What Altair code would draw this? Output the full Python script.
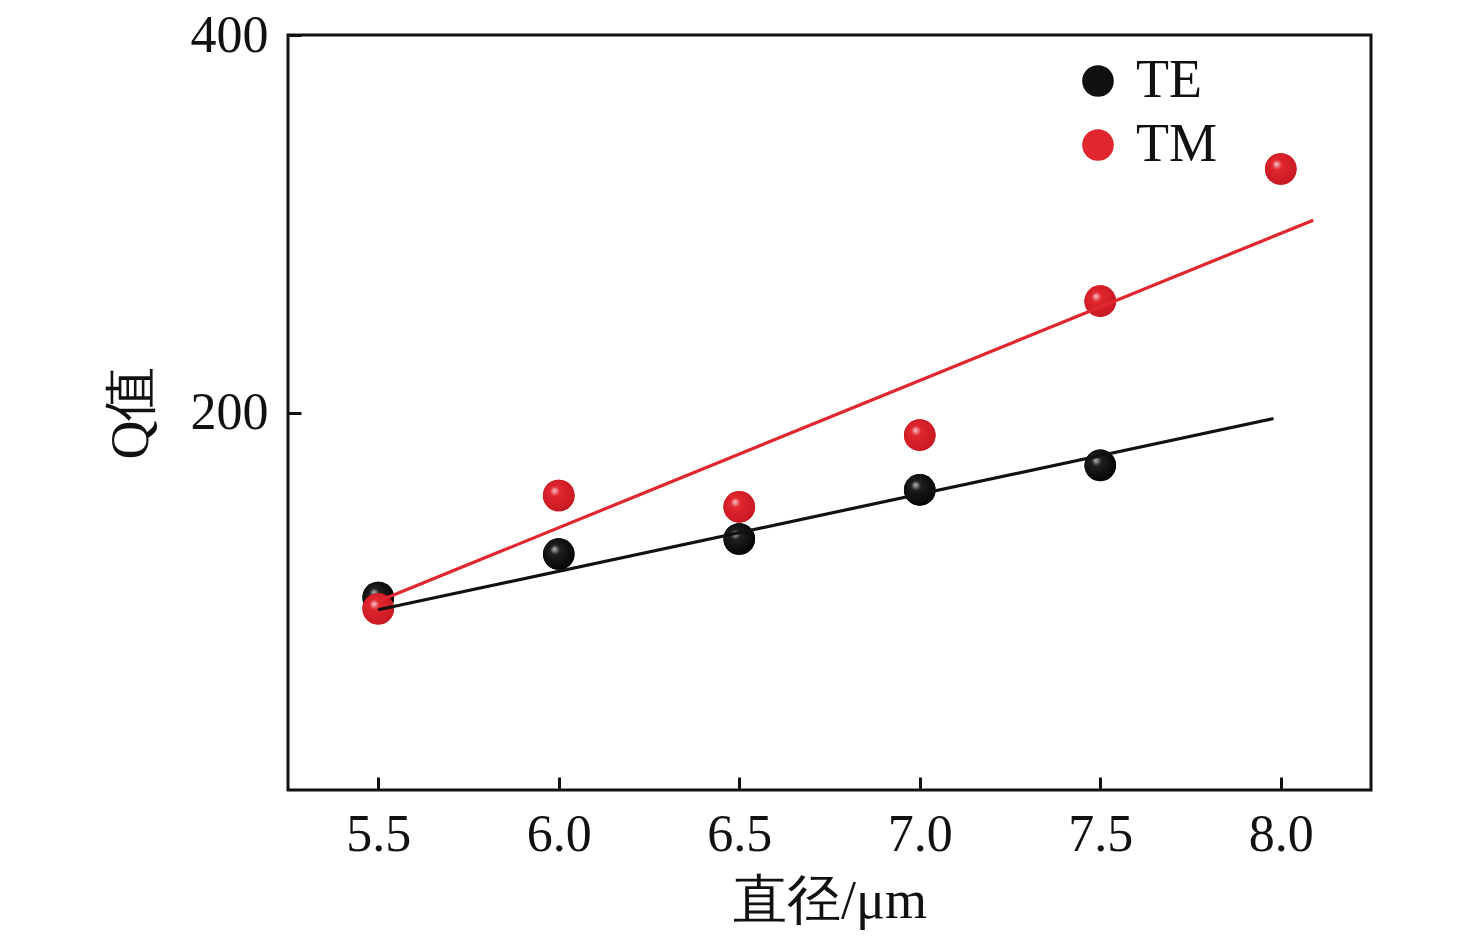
import altair as alt
import pandas as pd

# ---- data ----
te_d = [5.5, 6.0, 6.5, 7.0, 7.5]
te_q = [102, 125, 133, 159, 172]
tm_d = [5.5, 6.0, 6.5, 7.0, 7.5, 8.0]
tm_q = [96, 156, 150, 188, 259, 329]
te_fit_d = [5.5, 7.98]
te_fit_q = [95.5, 196.8]
tm_fit_d = [5.5, 8.09]
tm_fit_q = [100.0, 301.9]
series = ["TE", "TM"]
solid_colors = ["#111111", "#e0262e"]
x_ticks = [5.5, 6.0, 6.5, 7.0, 7.5, 8.0]
y_ticks = [200, 400]

pts = pd.DataFrame(
    {"d": te_d + tm_d, "q": te_q + tm_q, "mode": ["TE"] * len(te_d) + ["TM"] * len(tm_d)}
)
fit = pd.DataFrame(
    {
        "d": te_fit_d + tm_fit_d,
        "q": te_fit_q + tm_fit_q,
        "mode": ["TE"] * len(te_fit_d) + ["TM"] * len(tm_fit_d),
    }
)

FONT = "Liberation Serif"
PT_SIZE = 1000


def grad_dict(hi, mid, edge):
    return {
        "gradient": "radial",
        "x1": 0.36, "y1": 0.34, "r1": 0.0,
        "x2": 0.45, "y2": 0.45, "r2": 0.62,
        "stops": [
            {"offset": 0.0, "color": hi},
            {"offset": 0.25, "color": mid},
            {"offset": 1.0, "color": edge},
        ],
    }


te_g = grad_dict("#b8b8b8", "#202020", "#000000")
tm_g = grad_dict("#f6c6cc", "#e2262f", "#c41820")

xscale = alt.Scale(domain=[5.25, 8.25], nice=False, zero=False)
yscale = alt.Scale(domain=[0, 400], nice=False)

x_main = alt.X(
    "d:Q",
    scale=xscale,
    axis=alt.Axis(
        orient="bottom",
        title="直径/μm",
        values=x_ticks,
        format=".1f",
        tickSize=0,
        domain=False,
        grid=False,
        labelPadding=19,
        titlePadding=14,
    ),
)
y_main = alt.Y(
    "q:Q",
    scale=yscale,
    axis=alt.Axis(
        orient="left",
        title="Q值",
        values=y_ticks,
        format="d",
        tickSize=0,
        domain=False,
        grid=False,
        labelPadding=20,
        titlePadding=32,
    ),
)

base_pts = alt.Chart(pts).mark_point(filled=True, size=PT_SIZE, opacity=1).encode(
    x=x_main,
    y=y_main,
    color=alt.Color(
        "mode:N",
        scale=alt.Scale(domain=series, range=solid_colors),
        legend=alt.Legend(
            title=None,
            orient="none",
            legendX=783,
            legendY=19,
            padding=0,
            symbolType="circle",
            symbolSize=PT_SIZE,
            symbolStrokeWidth=0,
            labelFont=FONT,
            labelFontSize=54,
            labelColor="#111111",
            labelOffset=11,
            rowPadding=10,
        ),
    ),
)

grad_pts = alt.Chart(pts).mark_point(filled=True, size=PT_SIZE, opacity=1).encode(
    x=alt.X("d:Q", scale=xscale, axis=None),
    y=alt.Y("q:Q", scale=yscale, axis=None),
    fill=alt.condition(alt.datum.mode == "TE", alt.value(te_g), alt.value(tm_g)),
)

lines = alt.Chart(fit).mark_line(strokeWidth=3.2).encode(
    x=alt.X("d:Q", scale=xscale, axis=None),
    y=alt.Y("q:Q", scale=yscale, axis=None),
    color=alt.Color("mode:N", scale=alt.Scale(domain=series, range=["#111111", "#e0262e"]), legend=None),
    detail="mode:N",
)

# inward ticks: axes drawn inside the frame
tick_layer = alt.Chart(pts).mark_point(opacity=0).encode(
    x=alt.X(
        "d:Q",
        scale=xscale,
        axis=alt.Axis(
            orient="bottom", title=None, values=x_ticks, labels=False, domain=False, grid=False,
            tickSize=13, tickWidth=3, tickColor="#111111", offset=-13,
        ),
    ),
    y=alt.Y(
        "q:Q",
        scale=yscale,
        axis=alt.Axis(
            orient="left", title=None, values=y_ticks, labels=False, domain=False, grid=False,
            tickSize=13, tickWidth=3, tickColor="#111111", offset=-13,
        ),
    ),
)

chart = (
    alt.layer(base_pts, grad_pts, lines, tick_layer)
    .resolve_axis(x="independent", y="independent")
    .resolve_scale(color="independent")
    .properties(
        width=1083,
        height=755,
        background="white",
        autosize=alt.AutoSizeParams(type="none"),
        padding={"left": 280, "top": 27, "right": 90, "bottom": 140},
    )
    .configure_view(stroke="#111111", strokeWidth=3)
    .configure_axis(
        labelFont=FONT,
        labelFontSize=52,
        labelColor="#111111",
        titleFont=FONT,
        titleFontSize=54,
        titleFontWeight="normal",
        titleColor="#111111",
    )
)

chart.save("out.html", embed_options={"renderer": "svg", "actions": False})
